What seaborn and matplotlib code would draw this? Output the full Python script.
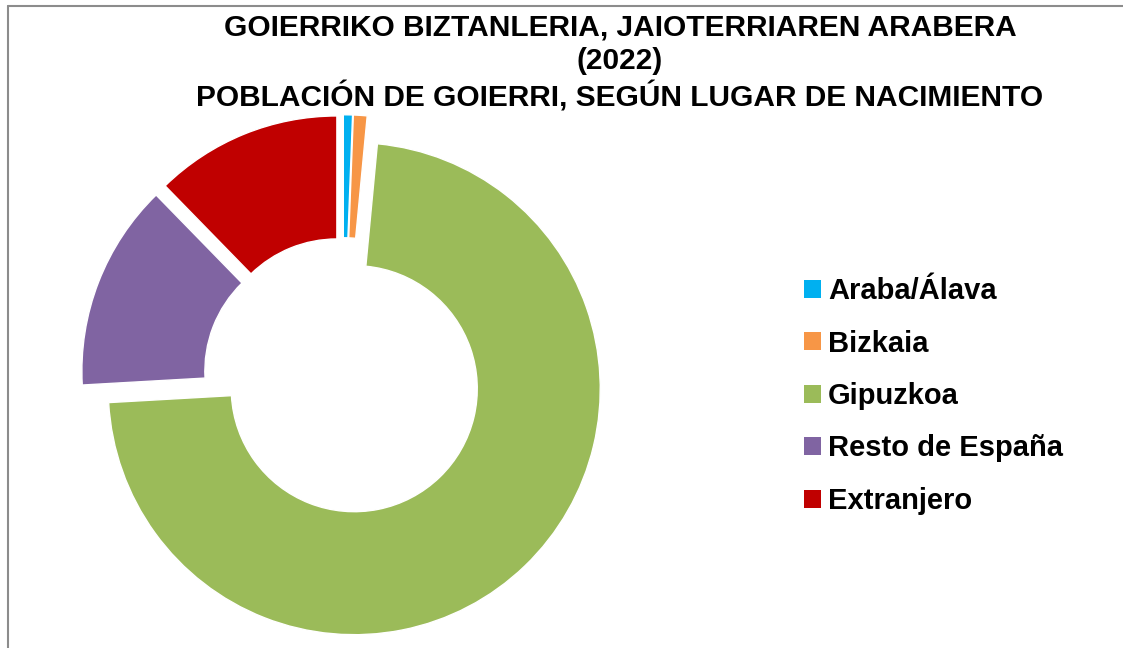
import matplotlib
matplotlib.use("Agg")
import matplotlib.pyplot as plt
import seaborn as sns
from matplotlib.patches import Patch
from matplotlib.lines import Line2D

categories = ["Araba/Álava", "Bizkaia", "Gipuzkoa", "Resto de España", "Extranjero"]
shares = [0.6, 0.9, 72.6, 13.6, 12.3]
colors_hex = ["#00B0F0", "#F79646", "#9BBB59", "#8064A2", "#C00000"]
title_lines = [
    "GOIERRIKO BIZTANLERIA, JAIOTERRIAREN ARABERA",
    "(2022)",
    "POBLACIÓN DE GOIERRI, SEGÚN LUGAR DE NACIMIENTO",
]

sns.set_theme(style="white")
plt.rcParams["font.family"] = ["Liberation Sans", "DejaVu Sans"]
palette = sns.color_palette(colors_hex)

W, H = 1123, 648
fig = plt.figure(figsize=(W / 100, H / 100), dpi=100)
fig.patch.set_facecolor("white")

# pie axes: centre (343, 377) px, radius 246 px
cx, cy, R = 343, 377, 246
half = 300
ax = fig.add_axes([(cx - half) / W, (H - cy - half) / H, 2 * half / W, 2 * half / H])

wedges, _ = ax.pie(
    shares,
    colors=palette,
    startangle=90,
    counterclock=False,
    explode=[0.066] * len(shares),
    radius=1.0,
    wedgeprops=dict(width=0.5, edgecolor="white", linewidth=1),
)
ax.set_xlim(-half / R, half / R)
ax.set_ylim(-half / R, half / R)
ax.axis("off")
for w in wedges:
    w.set_clip_on(False)

# title
fig.text(620 / W, 1 - 63 / H, "\n".join(title_lines), ha="center", va="center",
         fontsize=21.5, fontweight="bold", linespacing=1.24, color="black",
         family=["Liberation Sans", "DejaVu Sans"])

# legend
handles = [Patch(facecolor=c, edgecolor="none") for c in palette]
fig.legend(handles, categories, loc="center left",
           bbox_to_anchor=(804 / W, 1 - 396 / H),
           frameon=False, borderpad=0, borderaxespad=0,
           handlelength=0.57, handleheight=0.57, handletextpad=0.25,
           labelspacing=0.84, labelcolor="black",
           prop=dict(family="Liberation Sans", weight="bold", size=21))

# chart-area border (cropped at right and bottom)
x0 = 8 / W
y0 = 1 - 6 / H
fig.add_artist(Line2D([x0, x0], [0, y0], color="#8c8c8c", lw=1.5, transform=fig.transFigure))
fig.add_artist(Line2D([x0, 1], [y0, y0], color="#8c8c8c", lw=1.5, transform=fig.transFigure))

fig.savefig("out.png", dpi=100)
